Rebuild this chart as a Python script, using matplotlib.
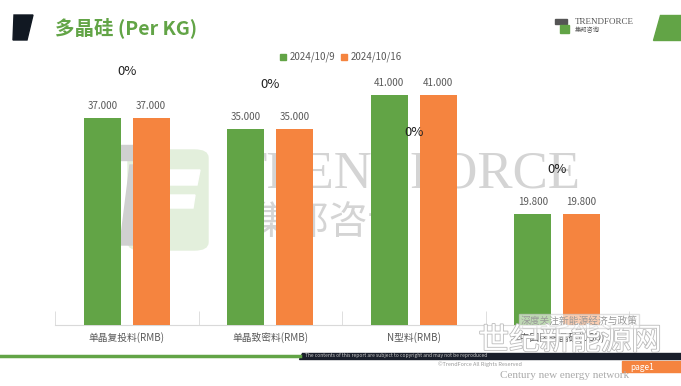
import numpy as np
import matplotlib.pyplot as plt
import matplotlib.patheffects as pe
from matplotlib.patches import Polygon, Rectangle, FancyBboxPatch

plt.rcParams['font.family'] = ['Noto Sans CJK SC', 'DejaVu Sans']

categories = ['单晶复投料(RMB)', '单晶致密料(RMB)', 'N型料(RMB)', '非中国区多晶硅(USD)']
series_names = ['2024/10/9', '2024/10/16']
price_1009 = [37.0, 35.0, 41.0, 19.8]
price_1016 = [37.0, 35.0, 41.0, 19.8]
change_labels = ['0%', '0%', '0%', '0%']
change_label_y = [45.3, 42.9, 34.3, 27.7]

green = '#62a446'
orange = '#f5843f'
grey = '#595959'

fig = plt.figure(figsize=(6.81, 3.86), dpi=100)
W, H = 681, 386

def fx(px):
    return px / W

def fy(py):
    return 1 - py / H

# chart area in pixels: x 55..629, y 73..325
ax = fig.add_axes([fx(55), fy(325), fx(629) - fx(55), fy(73) - fy(325)])
ax.set_xlim(-0.5, len(categories) - 0.5)
ax.set_ylim(0, 45)

x = np.arange(len(categories))
bw = 0.258
off = 0.17
b1 = ax.bar(x - off, price_1009, bw, color=green, zorder=3)
b2 = ax.bar(x + off, price_1016, bw, color=orange, zorder=3)
for bars, vals in ((b1, price_1009), (b2, price_1016)):
    for r, v in zip(bars, vals):
        ax.text(r.get_x() + r.get_width() / 2, v + 1.3, '%.3f' % v, ha='center', va='bottom',
                fontsize=7, color=grey, zorder=4)
for i, (lab, yy) in enumerate(zip(change_labels, change_label_y)):
    ax.text(i, yy, lab, ha='center', va='center', fontsize=9.5, color='#222222', zorder=5)

for s in ('top', 'right', 'left'):
    ax.spines[s].set_visible(False)
ax.spines['bottom'].set_color('#d9d9d9')
ax.set_yticks([])
ax.set_xticks(np.arange(len(categories) + 1) - 0.5, minor=True)
ax.tick_params(axis='x', which='minor', length=10, color='#d9d9d9', direction='in')
ax.tick_params(axis='x', which='major', length=0, pad=5)
ax.set_xticks(x)
ax.set_xticklabels(categories, fontsize=7, color=grey)
ax.set_facecolor('none')

# watermark behind the bars (drawn inside the axes so zorder works)
tf = fig.transFigure
ax.text(fx(407), fy(174), 'TRENDFORCE', fontsize=38, color='#d4d4d4', family='Liberation Serif',
        ha='center', va='center', zorder=1, transform=tf)
ax.text(fx(330), fy(224), '集邦咨询', fontsize=28, color='#d4d4d4', ha='center', va='center',
        zorder=1, transform=tf)
ax.add_patch(FancyBboxPatch((fx(128), fy(250)), fx(80), 100 / H, boxstyle='round,pad=0,rounding_size=0.02',
                            transform=tf, color='#e3efdc', zorder=1, clip_on=False))
ax.add_patch(Polygon([[fx(150), fy(170)], [fx(200), fy(170)], [fx(197), fy(185)], [fx(147), fy(185)]],
                     closed=True, transform=tf, color='white', zorder=1, clip_on=False))
ax.add_patch(Polygon([[fx(155), fy(195)], [fx(195), fy(195)], [fx(193), fy(208)], [fx(152), fy(208)]],
                     closed=True, transform=tf, color='white', zorder=1, clip_on=False))
ax.add_patch(Polygon([[fx(118), fy(145)], [fx(150), fy(145)], [fx(150), fy(160)], [fx(118), fy(160)]],
                     closed=True, transform=tf, color='#d0d0d0', zorder=1, clip_on=False))
ax.add_patch(Polygon([[fx(130), fy(165)], [fx(150), fy(165)], [fx(140), fy(245)], [fx(120), fy(245)]],
                     closed=True, transform=tf, color='#d0d0d0', zorder=1, clip_on=False))

# legend
fig.patches.append(Rectangle((fx(280), fy(60)), fx(6), 6 / H, transform=tf, color=green))
fig.text(fx(290), fy(57), series_names[0], fontsize=7, color=grey, va='center')
fig.patches.append(Rectangle((fx(341), fy(60)), fx(6), 6 / H, transform=tf, color=orange))
fig.text(fx(351), fy(57), series_names[1], fontsize=7, color=grey, va='center')

# header
fig.patches.append(Polygon([[fx(14), fy(15)], [fx(33), fy(15)], [fx(27), fy(40)], [fx(13), fy(40)]],
                           closed=True, transform=tf, color='#111822'))
fig.patches.append(Polygon([[fx(660), fy(15)], [fx(681), fy(15)], [fx(681), fy(40)], [fx(653), fy(40)]],
                           closed=True, transform=tf, color=green))
fig.text(fx(55), fy(28), '多晶硅 (Per KG)', fontsize=14, fontweight='bold', color=green, va='center')
fig.patches.append(Rectangle((fx(555), fy(24)), fx(12), 5 / H, transform=tf, color='#555555'))
fig.patches.append(Rectangle((fx(560), fy(33)), fx(9), 8 / H, transform=tf, color=green))
fig.text(fx(575), fy(22), 'TRENDFORCE', fontsize=6.5, color='#555555', family='Liberation Serif', va='center')
fig.text(fx(575), fy(30), '集邦咨询', fontsize=4.5, color='#555555', va='center')

# footer
fig.add_artist(plt.Line2D([0, fx(300)], [fy(356), fy(356)], transform=tf, color=green, lw=2.5))
fig.patches.append(Polygon([[fx(302), fy(353)], [fx(681), fy(353)], [fx(681), fy(359)], [fx(299), fy(359)]],
                           closed=True, transform=tf, color='#1a1f2b'))
fig.text(fx(305), fy(356), 'The contents of this report are subject to copyright and may not be reproduced',
         fontsize=3.5, color='#cccccc', va='center')
fig.text(fx(480), fy(364), '©TrendForce All Rights Reserved', fontsize=4, color='#999999', ha='center', va='center')
fig.patches.append(Rectangle((fx(622), fy(372)), fx(59), 11 / H, transform=tf, color=orange))
fig.text(fx(642), fy(367), 'page1', fontsize=6, color='white', ha='center', va='center')

# overlay watermarks
fig.text(fx(570), fy(341), '世纪新能源网', fontsize=22, color='white', ha='center', va='center',
         path_effects=[pe.withStroke(linewidth=1.2, foreground='#bbbbbb')])
fig.text(fx(565), fy(376), 'Century new energy network', fontsize=8, color='#aaaaaa',
         family='Liberation Serif', ha='center', va='center')
fig.text(fx(579), fy(321), '深度关注新能源经济与政策', fontsize=7, color='#999999', ha='center', va='center',
         bbox=dict(facecolor='white', alpha=0.6, edgecolor='#cccccc', pad=1.2))

fig.savefig('out.png', dpi=100)
